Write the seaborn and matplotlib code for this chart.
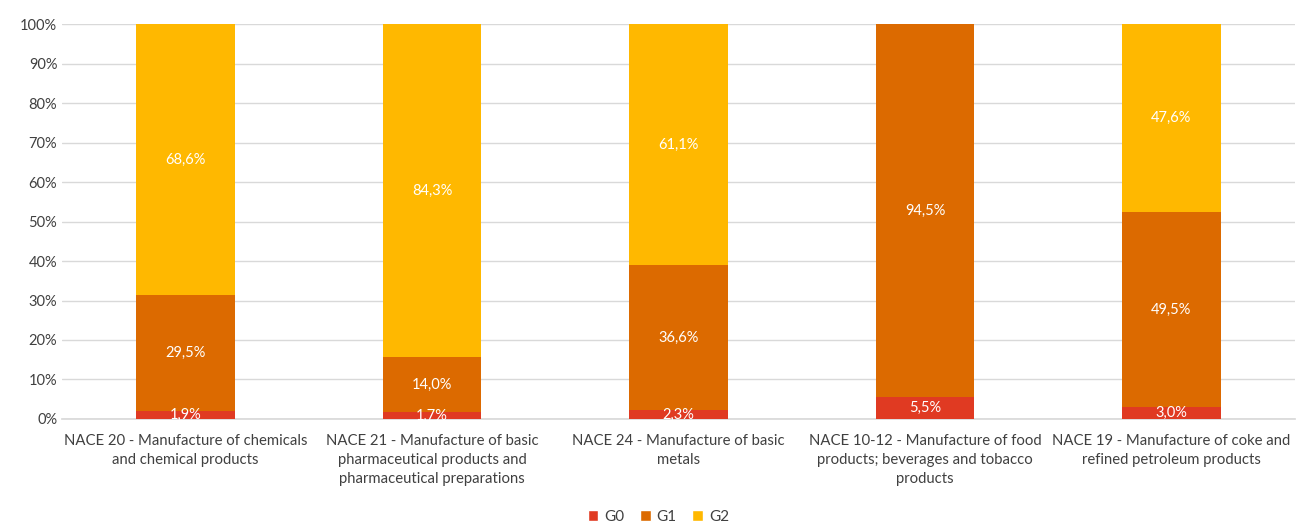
import numpy as np
import pandas as pd
import matplotlib
matplotlib.use("Agg")
import matplotlib.pyplot as plt
import seaborn as sns
from matplotlib.patches import Patch
from matplotlib.ticker import FuncFormatter

categories = [
    "NACE 20 - Manufacture of chemicals\nand chemical products",
    "NACE 21 - Manufacture of basic\npharmaceutical products and\npharmaceutical preparations",
    "NACE 24 - Manufacture of basic\nmetals",
    "NACE 10-12 - Manufacture of food\nproducts; beverages and tobacco\nproducts",
    "NACE 19 - Manufacture of coke and\nrefined petroleum products",
]
g0 = [1.9, 1.7, 2.3, 5.5, 3.0]
g1 = [29.5, 14.0, 36.6, 94.5, 49.5]
g2 = [68.6, 84.3, 61.1, 0.0, 47.6]
series_names = ["G0", "G1", "G2"]
colors = ["#E03A22", "#DC6A00", "#FFB800"]

sns.set_theme(style="white")
plt.rcParams["font.family"] = ["Lato", "DejaVu Sans"]

df = pd.DataFrame({"cat": categories, "G0": g0, "G1": g1, "G2": g2})
df["c1"] = df["G0"]
df["c2"] = df["G0"] + df["G1"]
df["c3"] = df["G0"] + df["G1"] + df["G2"]

fig = plt.figure(figsize=(12.96, 5.25), dpi=100)
ax = fig.add_axes([0.048, 0.202, 0.951, 0.752])

for col, color in zip(["c3", "c2", "c1"], colors[::-1]):
    sns.barplot(data=df, x="cat", y=col, color=color, width=0.4,
                saturation=1, ax=ax, zorder=3, linewidth=0)

# labels at segment centers
bottoms = np.zeros(len(categories))
for vals in [g0, g1, g2]:
    for i, v in enumerate(vals):
        if v > 0:
            ax.text(i, bottoms[i] + v / 2, f"{v:.1f}%".replace(".", ","),
                    ha="center", va="center", color="white", fontsize=10.5, zorder=5)
    bottoms += np.array(vals)

ax.set_ylim(0, 100)
ax.set_xlim(-0.5, len(categories) - 0.5)
ax.set_yticks(np.arange(0, 101, 10))
ax.yaxis.set_major_formatter(FuncFormatter(lambda v, p: f"{int(v)}%"))
ax.grid(axis="y", color="#D9D9D9", linewidth=1, zorder=0)
ax.set_axisbelow(True)
for s in ["top", "right", "left"]:
    ax.spines[s].set_visible(False)
ax.spines["bottom"].set_color("#D9D9D9")
ax.set_xlabel("")
ax.set_ylabel("")
ax.tick_params(axis="both", length=0, colors="#404040", labelsize=10.5)
ax.tick_params(axis="x", pad=11)
for lbl in ax.get_xticklabels():
    lbl.set_ha("center")
    lbl.set_va("top")
    lbl.set_multialignment("center")
    lbl.set_linespacing(1.45)
    lbl.set_fontsize(10.7)

handles = [Patch(facecolor=c, label=n) for c, n in zip(colors, series_names)]
fig.legend(handles=handles, loc="center", bbox_to_anchor=(0.508, 0.015), ncol=3,
           frameon=False, fontsize=11, handlelength=0.7, handleheight=0.7,
           handletextpad=0.4, columnspacing=1.0, labelcolor="#404040")

fig.savefig("out.png", dpi=100)
